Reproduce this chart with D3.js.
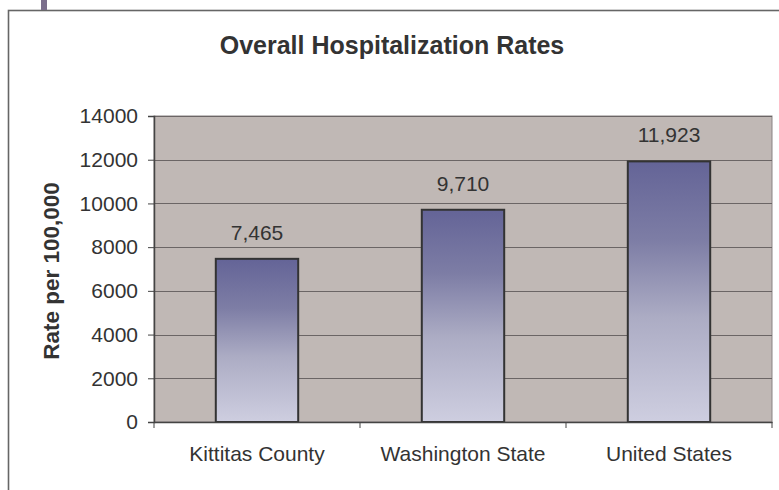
<!DOCTYPE html>
<html>
<head>
<meta charset="utf-8">
<script src="https://cdn.jsdelivr.net/npm/d3@7"></script>
<style>
  html, body { margin: 0; padding: 0; background: #fff; }
  svg { display: block; }
  text { font-family: "Liberation Sans", Arial, sans-serif; fill: #333; }
</style>
</head>
<body>
<svg id="chart" width="779" height="490"></svg>
<script>
const categories = ["Kittitas County", "Washington State", "United States"];
const values = [7465, 9710, 11923];
const yTicks = [0, 2000, 4000, 6000, 8000, 10000, 12000, 14000];
const title = "Overall Hospitalization Rates";
const yTitle = "Rate per 100,000";

const svg = d3.select("#chart");
const plot = { left: 154, right: 772, top: 116, bottom: 422 };
const FONT = "Liberation Sans, Arial, sans-serif";

// outer frame
svg.append("rect").attr("x", 8.5).attr("y", 10.5).attr("width", 800).attr("height", 600)
  .attr("fill", "#fff").attr("stroke", "#666").attr("stroke-width", 1.6);
// purple tab at top left
svg.append("rect").attr("x", 41).attr("y", 0).attr("width", 6).attr("height", 10)
  .attr("fill", "#7b6f8c");

const x = d3.scaleBand().domain(categories).range([plot.left, plot.right]).paddingInner(0.6).paddingOuter(0.3);
const xb = d3.scaleBand().domain(categories).range([plot.left, plot.right]);
const y = d3.scaleLinear().domain([0, 14000]).range([plot.bottom, plot.top]);

// plot area background
svg.append("rect").attr("x", plot.left).attr("y", plot.top)
  .attr("width", plot.right - plot.left).attr("height", plot.bottom - plot.top)
  .attr("fill", "#c0b8b5").attr("stroke", "#8a8383").attr("stroke-width", 1);

// gridlines
svg.append("g").selectAll("line").data(yTicks.filter(d => d > 0)).join("line")
  .attr("x1", plot.left).attr("x2", plot.right)
  .attr("y1", d => Math.round(y(d)) + 0.5).attr("y2", d => Math.round(y(d)) + 0.5)
  .attr("stroke", "#6b6565").attr("stroke-width", 1.1);

// gradient
const defs = svg.append("defs");
const grad = defs.append("linearGradient").attr("id", "barGrad")
  .attr("x1", 0).attr("y1", 0).attr("x2", 0).attr("y2", 1);
[[0, "#646497"], [0.3, "#7d7da5"], [0.6, "#acacc4"], [1, "#cecee0"]].forEach(([o, c]) =>
  grad.append("stop").attr("offset", o).attr("stop-color", c));

// bars
svg.append("g").selectAll("rect").data(values).join("rect")
  .attr("x", (d, i) => x(categories[i]))
  .attr("y", d => y(d))
  .attr("width", x.bandwidth())
  .attr("height", d => plot.bottom - y(d))
  .attr("fill", "url(#barGrad)")
  .attr("stroke", "#333").attr("stroke-width", 2);

// value labels
svg.append("g").selectAll("text").data(values).join("text")
  .attr("x", (d, i) => x(categories[i]) + x.bandwidth() / 2)
  .attr("y", d => y(d) - 19)
  .attr("text-anchor", "middle")
  .attr("font-size", 21)
  .text(d => d3.format(",")(d));

// y axis
const yAxis = d3.axisLeft(y).tickValues(yTicks).tickSize(6).tickPadding(10).tickFormat(d3.format("d"));
const gy = svg.append("g").attr("transform", `translate(${plot.left},0)`).call(yAxis);
gy.select(".domain").attr("stroke", "#444").attr("stroke-width", 1.5);
gy.selectAll(".tick line").attr("stroke", "#444");
gy.selectAll(".tick text").attr("font-size", 21).attr("fill", "#333").attr("font-family", FONT);

// x axis
const xAxis = d3.axisBottom(xb).tickSize(0).tickPadding(24);
const gx = svg.append("g").attr("transform", `translate(0,${plot.bottom})`).call(xAxis);
gx.select(".domain").attr("stroke", "#444").attr("stroke-width", 1.5);
gx.selectAll(".tick text").attr("font-size", 21).attr("fill", "#333").attr("font-family", FONT);
// category boundary ticks
const bounds = categories.map(c => xb(c)).concat([plot.right]);
gx.append("g").selectAll("line").data(bounds).join("line")
  .attr("x1", d => d).attr("x2", d => d).attr("y1", 0).attr("y2", 6)
  .attr("stroke", "#444").attr("stroke-width", 1);

// title
svg.append("text").attr("x", 392).attr("y", 54).attr("text-anchor", "middle")
  .attr("font-size", 25).attr("font-weight", "bold").text(title);

// y title
svg.append("text").attr("transform", `translate(59,${(plot.top + plot.bottom) / 2 + 2}) rotate(-90)`)
  .attr("text-anchor", "middle").attr("font-size", 22.5).attr("font-weight", "bold").text(yTitle);
</script>
</body>
</html>
